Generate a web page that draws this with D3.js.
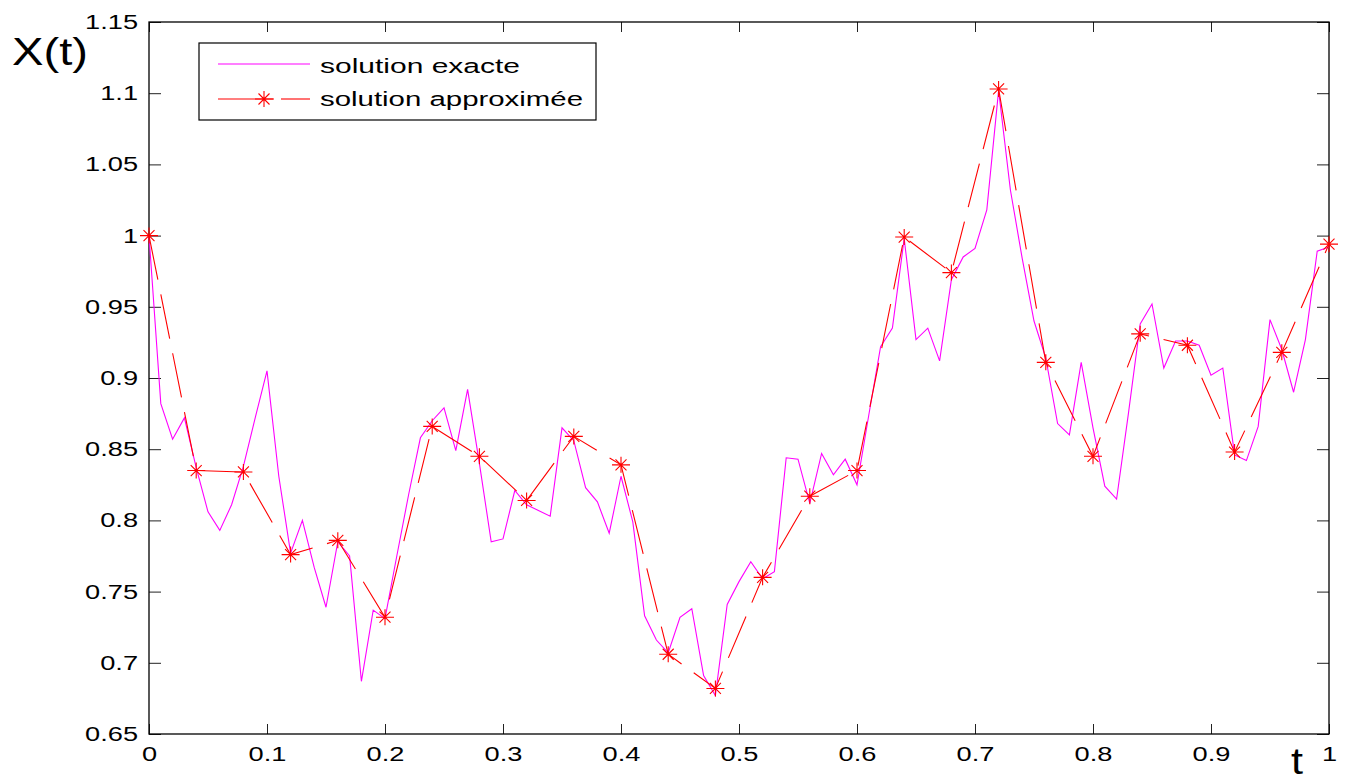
<!DOCTYPE html>
<html>
<head>
<meta charset="utf-8">
<script src="https://cdn.jsdelivr.net/npm/d3@7"></script>
<style>
  html, body { margin: 0; padding: 0; background: #fff; }
  svg { display: block; font-family: "Liberation Sans", Arial, sans-serif; }
</style>
</head>
<body>
<div id="chart"></div>
<script>
// exact solution, sampled every 0.01
var exactT = d3.range(0, 101).map(function(i) { return i / 100; });
var exactX = [
  1.000, 0.882, 0.857, 0.872, 0.837, 0.806, 0.793, 0.811, 0.838, 0.872,
  0.905, 0.831, 0.777, 0.800, 0.767, 0.739, 0.785, 0.775, 0.687, 0.737,
  0.731, 0.775, 0.818, 0.858, 0.870, 0.879, 0.849, 0.892, 0.840, 0.785,
  0.787, 0.821, 0.811, 0.807, 0.803, 0.865, 0.856, 0.823, 0.813, 0.791,
  0.831, 0.799, 0.733, 0.716, 0.707, 0.732, 0.738, 0.691, 0.677, 0.741,
  0.757, 0.771, 0.759, 0.764, 0.844, 0.843, 0.812, 0.847, 0.832, 0.843,
  0.825, 0.874, 0.922, 0.935, 0.998, 0.927, 0.935, 0.912, 0.969, 0.985,
  0.991, 1.018, 1.102, 1.032, 0.984, 0.940, 0.914, 0.868, 0.860, 0.911,
  0.865, 0.824, 0.815, 0.875, 0.938, 0.952, 0.907, 0.926, 0.926, 0.923,
  0.902, 0.907, 0.846, 0.842, 0.866, 0.941, 0.920, 0.890, 0.927, 0.989,
  0.992
];

// approximate solution, every 0.04
var approxT = d3.range(0, 26).map(function(i) { return i * 0.04; });
var approxX = [
  1.000, 0.835, 0.834, 0.776, 0.786, 0.732, 0.866, 0.845, 0.814, 0.859,
  0.839, 0.706, 0.682, 0.760, 0.817, 0.835, 0.999, 0.974, 1.103, 0.911,
  0.845, 0.931, 0.923, 0.848, 0.918, 0.994
];

var xTicks = [0, 0.1, 0.2, 0.3, 0.4, 0.5, 0.6, 0.7, 0.8, 0.9, 1];
var xTickLabels = ["0", "0.1", "0.2", "0.3", "0.4", "0.5", "0.6", "0.7", "0.8", "0.9", "1"];
var yTicks = [0.65, 0.7, 0.75, 0.8, 0.85, 0.9, 0.95, 1, 1.05, 1.1, 1.15];
var yTickLabels = ["0.65", "0.7", "0.75", "0.8", "0.85", "0.9", "0.95", "1", "1.05", "1.1", "1.15"];

var seriesNames = ["solution exacte", "solution approximée"];

var W = 1347, H = 777;
var plotL = 149, plotR = 1329, plotT = 22, plotB = 734;
var stretch = 1.36;   // the original figure was widened, texts are too

var svg = d3.select("#chart").append("svg")
  .attr("width", W)
  .attr("height", H);

var x = d3.scaleLinear().domain([0, 1]).range([plotL, plotR]);
var y = d3.scaleLinear().domain([0.65, 1.15]).range([plotB, plotT]);

// ticks, pointing inward on all four sides
var xAxis = svg.append("g")
  .attr("transform", "translate(0," + plotB + ")")
  .call(d3.axisBottom(x).tickValues(xTicks)
    .tickFormat(function(d, i) { return xTickLabels[i]; })
    .tickSize(-10).tickPadding(13));
var yAxis = svg.append("g")
  .attr("transform", "translate(" + plotL + ",0)")
  .call(d3.axisLeft(y).tickValues(yTicks)
    .tickFormat(function(d, i) { return yTickLabels[i]; })
    .tickSize(-12).tickPadding(11));
svg.append("g")
  .attr("transform", "translate(0," + plotT + ")")
  .call(d3.axisTop(x).tickValues(xTicks).tickFormat("").tickSize(-10));
svg.append("g")
  .attr("transform", "translate(" + plotR + ",0)")
  .call(d3.axisRight(y).tickValues(yTicks).tickFormat("").tickSize(-12));

svg.selectAll(".domain").remove();
svg.selectAll(".tick line").attr("stroke", "#222").attr("stroke-width", 1);

xAxis.selectAll("text")
  .attr("font-size", 20)
  .attr("fill", "#000")
  .attr("font-family", "Liberation Sans, Arial, sans-serif")
  .attr("transform", "scale(" + stretch + ",1)");
yAxis.selectAll("text")
  .attr("font-size", 20)
  .attr("fill", "#000")
  .attr("font-family", "Liberation Sans, Arial, sans-serif")
  .attr("x", -11 / stretch)
  .attr("transform", "scale(" + stretch + ",1)");

// frame
svg.append("rect")
  .attr("x", plotL).attr("y", plotT)
  .attr("width", plotR - plotL).attr("height", plotB - plotT)
  .attr("fill", "none")
  .attr("stroke", "#000")
  .attr("stroke-width", 1.3);

var line = d3.line()
  .x(function(d) { return x(d[0]); })
  .y(function(d) { return y(d[1]); });

// exact solution
svg.append("path")
  .datum(d3.zip(exactT, exactX))
  .attr("d", line)
  .attr("fill", "none")
  .attr("stroke", "#ff00ff")
  .attr("stroke-width", 1.1);

// approximate solution
svg.append("path")
  .datum(d3.zip(approxT, approxX))
  .attr("d", line)
  .attr("fill", "none")
  .attr("stroke", "#ff0000")
  .attr("stroke-width", 1.1)
  .attr("stroke-dasharray", "45,15");

var star = "M-9,0H9M0,-8V8M-5.5,-5.5L5.5,5.5M-5.5,5.5L5.5,-5.5";

svg.selectAll(".star").data(d3.zip(approxT, approxX))
  .enter().append("path")
  .attr("class", "star")
  .attr("transform", function(d) { return "translate(" + x(d[0]) + "," + y(d[1]) + ")"; })
  .attr("d", star)
  .attr("fill", "none")
  .attr("stroke", "#ff0000")
  .attr("stroke-width", 1.1);

// legend
var legend = svg.append("g");
legend.append("rect")
  .attr("x", 199).attr("y", 43)
  .attr("width", 397).attr("height", 77)
  .attr("fill", "#fff")
  .attr("stroke", "#000")
  .attr("stroke-width", 1.2);
legend.append("line")
  .attr("x1", 218).attr("x2", 310).attr("y1", 64).attr("y2", 64)
  .attr("stroke", "#ff00ff").attr("stroke-width", 1.1);
legend.append("line")
  .attr("x1", 218).attr("x2", 274).attr("y1", 99).attr("y2", 99)
  .attr("stroke", "#ff0000").attr("stroke-width", 1.1);
legend.append("line")
  .attr("x1", 281).attr("x2", 310).attr("y1", 99).attr("y2", 99)
  .attr("stroke", "#ff0000").attr("stroke-width", 1.1);
legend.append("path")
  .attr("transform", "translate(264,99)")
  .attr("d", star)
  .attr("fill", "none")
  .attr("stroke", "#ff0000")
  .attr("stroke-width", 1.1);
legend.selectAll(".ltext").data(seriesNames)
  .enter().append("text")
  .attr("x", 320)
  .attr("y", function(d, i) { return i === 0 ? 73 : 106; })
  .attr("font-size", 20.5)
  .attr("textLength", function(d, i) { return i === 0 ? 200 : 263; })
  .attr("lengthAdjust", "spacingAndGlyphs")
  .text(function(d) { return d; });

// axis labels
svg.append("text")
  .attr("x", 12).attr("y", 65)
  .attr("font-size", 39)
  .attr("textLength", 76)
  .attr("lengthAdjust", "spacingAndGlyphs")
  .text("X(t)");
svg.append("text")
  .attr("x", 1291).attr("y", 774)
  .attr("font-size", 37)
  .attr("textLength", 12)
  .attr("lengthAdjust", "spacingAndGlyphs")
  .text("t");
</script>
</body>
</html>
